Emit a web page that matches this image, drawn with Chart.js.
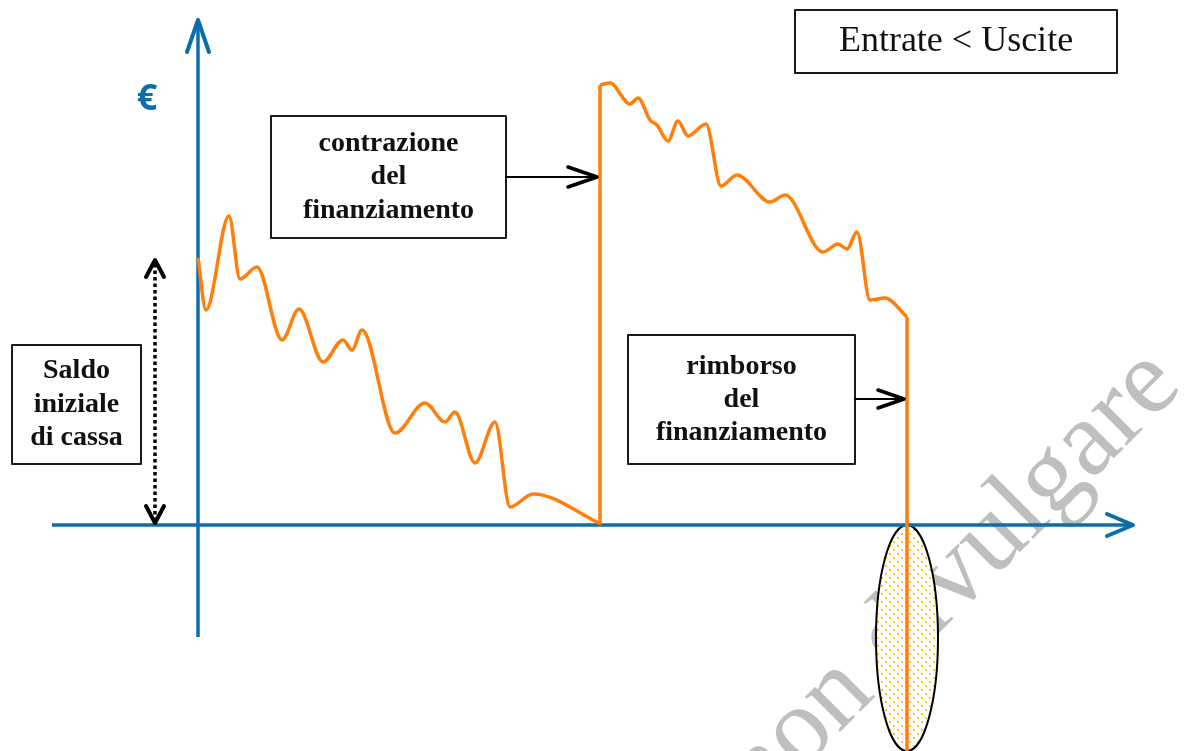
<!DOCTYPE html>
<html>
<head>
<meta charset="utf-8">
<script src="https://cdn.jsdelivr.net/npm/chart.js@4.4.1/dist/chart.umd.min.js"></script>
<style>
  html, body { margin: 0; padding: 0; background: #fff; }
  #wrap { width: 1190px; height: 751px; }
</style>
</head>
<body>
<div id="wrap"><canvas id="chart" width="1190" height="751"></canvas></div>
<script>
// ============================================
// Cash balance diagram - "Entrate < Uscite"
// Balance drifts down, a loan lifts it, repayment drops it below zero
// ============================================

// --- data (x = time, y = cash balance, arbitrary units) ---
// before the loan
const beforeX = [0, 8, 31, 42, 59, 84, 101, 125, 145, 154, 164, 197, 227, 247, 257, 277, 297, 312, 335, 403];
const beforeY = [267, 215, 309, 246, 258, 185, 216, 163, 185, 175, 195, 92, 122, 103, 113, 62, 103, 18, 31, 1];

// after the loan has been granted
const afterX = [402, 412, 432, 440, 452, 459, 470, 480, 490, 508, 523, 539, 572, 587, 625, 640, 649, 659, 672, 687, 709];
const afterY = [440, 442, 421, 427, 405, 400, 384, 404, 389, 401, 339, 350, 323, 330, 273, 281, 276, 293, 225, 227, 208];

// loan events
const loanX = afterX[0];                    // contrazione del finanziamento
const repayX = afterX[afterX.length - 1];   // rimborso del finanziamento
const repayBottom = -230;

// axes extent
const axisXRange = [-146, 935];
const axisYRange = [-112, 505];

// labels
const titleText = 'Entrate < Uscite';
const loanLabel = ['contrazione', 'del', 'finanziamento'];
const repayLabel = ['rimborso', 'del', 'finanziamento'];
const startLabel = ['Saldo', 'iniziale', 'di cassa'];
const watermarkText = 'non divulgare';

const ORANGE = '#FF7F0A';
const BLUE = '#0B6EAA';

const toPoints = (xs, ys) => xs.map((x, i) => ({ x: x, y: ys[i] }));

/**
 * Open chevron arrow head
 */
function chevron(ctx, tipX, tipY, angle, len, spread) {
    const ca = Math.cos(angle), sa = Math.sin(angle);
    const bx = tipX - ca * len, by = tipY - sa * len;
    ctx.beginPath();
    ctx.moveTo(bx - sa * spread, by + ca * spread);
    ctx.lineTo(tipX, tipY);
    ctx.lineTo(bx + sa * spread, by - ca * spread);
    ctx.stroke();
}

function dotPattern(ctx) {
    const c = document.createElement('canvas');
    c.width = 8; c.height = 8;
    const g = c.getContext('2d');
    g.fillStyle = '#fff';
    g.fillRect(0, 0, 8, 8);
    g.fillStyle = '#FFC61A';
    g.fillRect(1, 1, 2, 2);
    g.fillRect(5, 5, 2, 2);
    return ctx.createPattern(c, 'repeat');
}

function labelBox(ctx, px, py, box, lines, font, lineGap) {
    const x0 = px(box[0]), x1 = px(box[1]);
    const y0 = py(box[2]), y1 = py(box[3]);
    ctx.fillStyle = '#fff';
    ctx.fillRect(x0, y0, x1 - x0, y1 - y0);
    ctx.strokeStyle = '#1a1a1a';
    ctx.lineWidth = 2;
    ctx.strokeRect(x0, y0, x1 - x0, y1 - y0);
    ctx.fillStyle = '#111';
    ctx.font = font;
    ctx.textAlign = 'center';
    ctx.textBaseline = 'middle';
    const cx = (x0 + x1) / 2, cy = (y0 + y1) / 2;
    lines.forEach((t, i) => {
        ctx.fillText(t, cx, cy + (i - (lines.length - 1) / 2) * lineGap);
    });
}

const diagramPlugin = {
    id: 'diagram',
    beforeDatasetsDraw(chart) {
        const ctx = chart.ctx;
        const px = v => chart.scales.x.getPixelForValue(v);
        const py = v => chart.scales.y.getPixelForValue(v);

        // watermark
        ctx.save();
        ctx.translate(762, 810);
        ctx.rotate(-Math.PI / 4);
        ctx.fillStyle = '#BFBFBF';
        ctx.font = '108px "Liberation Serif"';
        ctx.textAlign = 'left';
        ctx.textBaseline = 'alphabetic';
        ctx.fillText(watermarkText, 0, 0);
        ctx.restore();

        // negative balance ellipse at repayment
        ctx.save();
        ctx.beginPath();
        ctx.ellipse(px(repayX), py(-113), 31, 113, 0, 0, Math.PI * 2);
        ctx.fillStyle = dotPattern(ctx);
        ctx.fill();
        ctx.strokeStyle = '#000';
        ctx.lineWidth = 2;
        ctx.stroke();
        ctx.restore();
    },
    afterDatasetsDraw(chart) {
        const ctx = chart.ctx;
        const px = v => chart.scales.x.getPixelForValue(v);
        const py = v => chart.scales.y.getPixelForValue(v);

        ctx.save();
        ctx.lineCap = 'round';
        ctx.lineJoin = 'round';

        // axis arrow heads
        ctx.strokeStyle = BLUE;
        ctx.lineWidth = 4;
        chevron(ctx, px(axisXRange[1]), py(0), 0, 26, 11);
        chevron(ctx, px(0), py(axisYRange[1]), -Math.PI / 2, 32, 11);

        // euro sign
        ctx.fillStyle = BLUE;
        ctx.font = 'bold 36px "Open Sans"';
        ctx.textAlign = 'center';
        ctx.textBaseline = 'middle';
        ctx.fillText('€', px(-51), py(425));

        // title box
        labelBox(ctx, px, py, [597, 919, 515, 452], [titleText], '36px "Liberation Serif"', 0);

        // loan / repayment boxes with arrows
        labelBox(ctx, px, py, [73, 308, 409, 287], loanLabel, 'bold 28px "Liberation Serif"', 33.5);
        labelBox(ctx, px, py, [430, 657, 190, 61], repayLabel, 'bold 28px "Liberation Serif"', 33);
        labelBox(ctx, px, py, [-186, -57, 180, 61], startLabel, 'bold 28px "Liberation Serif"', 33.5);

        ctx.strokeStyle = '#000';
        ctx.lineWidth = 2.2;
        ctx.beginPath();
        ctx.moveTo(px(308), py(348));
        ctx.lineTo(px(loanX) - 3, py(348));
        ctx.moveTo(px(657), py(126));
        ctx.lineTo(px(repayX) - 3, py(126));
        ctx.stroke();
        ctx.lineWidth = 3.5;
        chevron(ctx, px(loanX) - 3, py(348), 0, 29, 10);
        chevron(ctx, px(repayX) - 3, py(126), 0, 26, 9);

        // initial balance dotted double arrow
        const ax = px(-43);
        const top = py(beforeY[0]) + 2, bottom = py(0) - 2;
        ctx.lineCap = 'butt';
        ctx.lineWidth = 3.5;
        ctx.setLineDash([3.5, 3]);
        ctx.beginPath();
        ctx.moveTo(ax, top + 4);
        ctx.lineTo(ax, bottom - 4);
        ctx.stroke();
        ctx.setLineDash([]);
        ctx.lineCap = 'round';
        ctx.lineWidth = 4;
        chevron(ctx, ax, top, -Math.PI / 2, 17, 9);
        chevron(ctx, ax, bottom, Math.PI / 2, 17, 9);

        ctx.restore();
    }
};

const lineStyle = {
    showLine: true,
    pointRadius: 0,
    pointHoverRadius: 0,
    fill: false
};

new Chart(document.getElementById('chart').getContext('2d'), {
    type: 'scatter',
    data: {
        datasets: [
            {
                ...lineStyle,
                label: 'Saldo',
                data: toPoints(beforeX, beforeY),
                borderColor: ORANGE,
                borderWidth: 3.5,
                cubicInterpolationMode: 'monotone',
                order: 1
            },
            {
                ...lineStyle,
                label: 'Contrazione',
                data: [{ x: loanX, y: 0 }, { x: loanX, y: afterY[0] }],
                borderColor: ORANGE,
                borderWidth: 3.5,
                tension: 0,
                order: 1
            },
            {
                ...lineStyle,
                label: 'Saldo dopo',
                data: toPoints(afterX, afterY),
                borderColor: ORANGE,
                borderWidth: 3.5,
                cubicInterpolationMode: 'monotone',
                order: 1
            },
            {
                ...lineStyle,
                label: 'Rimborso',
                data: [{ x: repayX, y: afterY[afterY.length - 1] }, { x: repayX, y: repayBottom }],
                borderColor: ORANGE,
                borderWidth: 3.5,
                tension: 0,
                order: 1
            },
            {
                ...lineStyle,
                label: 'asse x',
                data: [{ x: axisXRange[0], y: 0 }, { x: axisXRange[1], y: 0 }],
                borderColor: BLUE,
                borderWidth: 3.5,
                tension: 0,
                order: 2
            },
            {
                ...lineStyle,
                label: 'asse y',
                data: [{ x: 0, y: axisYRange[0] }, { x: 0, y: axisYRange[1] }],
                borderColor: BLUE,
                borderWidth: 3.5,
                tension: 0,
                order: 2
            }
        ]
    },
    options: {
        responsive: false,
        animation: false,
        devicePixelRatio: 1,
        layout: { padding: 0 },
        scales: {
            x: { type: 'linear', min: -198, max: 992, display: false },
            y: { type: 'linear', min: -226, max: 525, display: false }
        },
        plugins: {
            legend: { display: false },
            tooltip: { enabled: false }
        }
    },
    plugins: [diagramPlugin]
});
</script>
</body>
</html>
